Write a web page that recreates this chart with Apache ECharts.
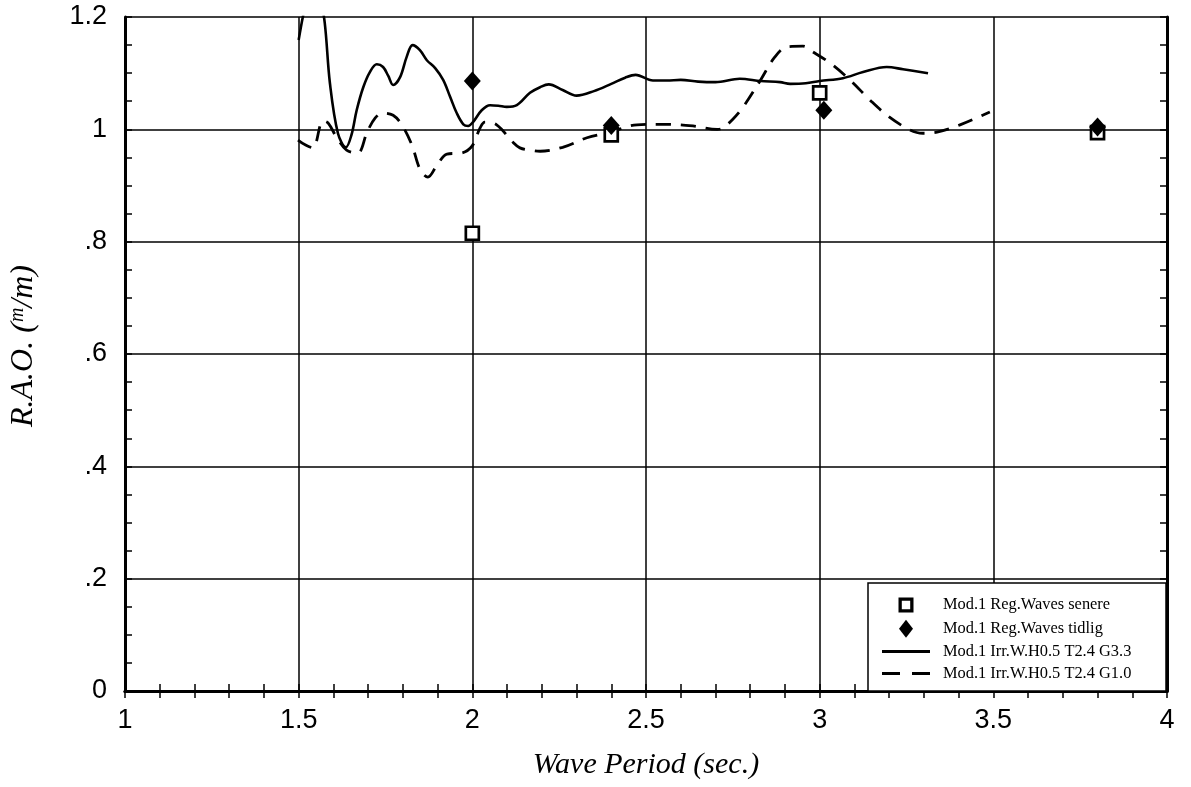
<!DOCTYPE html>
<html>
<head>
<meta charset="utf-8">
<script src="https://cdn.jsdelivr.net/npm/echarts@6/dist/echarts.min.js"></script>
<style>
html,body{margin:0;padding:0;background:#fff;}
#chart{width:1191px;height:787px;}
</style>
</head>
<body>
<div id="chart"></div>
<script>
// ---- data ----
const xTicks = [1, 1.5, 2, 2.5, 3, 3.5, 4];
const yTicks = ['0', '.2', '.4', '.6', '.8', '1', '1.2'];

const senerePeriod = [2.0, 2.4, 3.0, 3.8];
const senereRao    = [0.815, 0.99, 1.065, 0.994];

const tidligPeriod = [2.0, 2.4, 3.012, 3.8];
const tidligRao    = [1.086, 1.007, 1.034, 1.004];

const g33Period = [1.5, 1.512, 1.53, 1.545, 1.56, 1.575, 1.59, 1.613, 1.636, 1.652, 1.667, 1.686, 1.705, 1.725, 1.743, 1.758, 1.772, 1.792, 1.811, 1.828, 1.849, 1.869, 1.893, 1.916, 1.936, 1.955, 1.974, 1.988, 2.002, 2.027, 2.051, 2.075, 2.099, 2.128, 2.166, 2.195, 2.22, 2.26, 2.3, 2.35, 2.4, 2.44, 2.47, 2.52, 2.56, 2.6, 2.65, 2.7, 2.77, 2.83, 2.886, 2.915, 2.96, 3.0, 3.067, 3.125, 3.193, 3.24, 3.312];
const g33Rao    = [1.159, 1.2, 1.25, 1.265, 1.24, 1.19, 1.082, 0.993, 0.968, 0.99, 1.034, 1.075, 1.102, 1.116, 1.111, 1.095, 1.079, 1.093, 1.129, 1.15, 1.141, 1.123, 1.109, 1.088, 1.058, 1.029, 1.009, 1.006, 1.013, 1.034, 1.043, 1.042, 1.04, 1.043, 1.065, 1.075, 1.08, 1.07, 1.06, 1.068, 1.081, 1.092, 1.097, 1.087, 1.087, 1.088, 1.085, 1.084, 1.09, 1.086, 1.084, 1.081, 1.082, 1.086, 1.091, 1.102, 1.111, 1.107, 1.1];

const g10Period = [1.498, 1.52, 1.541, 1.57, 1.585, 1.61, 1.638, 1.67, 1.697, 1.72, 1.743, 1.772, 1.797, 1.826, 1.85, 1.872, 1.898, 1.927, 1.97, 1.999, 2.022, 2.036, 2.07, 2.117, 2.137, 2.175, 2.195, 2.26, 2.33, 2.396, 2.474, 2.56, 2.635, 2.705, 2.72, 2.75, 2.78, 2.83, 2.87, 2.906, 2.952, 2.98, 3.03, 3.087, 3.145, 3.2, 3.26, 3.297, 3.338, 3.404, 3.49];
const g10Rao    = [0.981, 0.972, 0.967, 1.015, 1.011, 0.985, 0.963, 0.958, 0.995, 1.02, 1.029, 1.025, 1.008, 0.972, 0.928, 0.915, 0.936, 0.956, 0.958, 0.97, 1.002, 1.013, 1.008, 0.977, 0.967, 0.962, 0.961, 0.968, 0.985, 0.995, 1.008, 1.009, 1.006, 1.0, 1.002, 1.018, 1.04, 1.088, 1.128, 1.147, 1.148, 1.138, 1.118, 1.088, 1.052, 1.022, 0.999, 0.993, 0.995, 1.008, 1.031];

const names = ['Mod.1 Reg.Waves senere', 'Mod.1 Reg.Waves tidlig', 'Mod.1 Irr.W.H0.5 T2.4 G3.3', 'Mod.1 Irr.W.H0.5 T2.4 G1.0'];

const zip = (a, b) => a.map((v, i) => [v, b[i]]);

const chart = echarts.init(document.getElementById('chart'), null, {renderer: 'canvas'});
const black = '#000';
const yFmt = v => {
  const s = Number(v).toFixed(1).replace(/\.0$/, '');
  return s.startsWith('0.') ? s.slice(1) : s;
};

const minorTick = (n) => ({show: true, splitNumber: n, length: 7, lineStyle: {color: black, width: 1.5}});

// legend icon shapes
const iconSquare = 'path://M-1.5,-1.5h0.01v0.01h-0.01ZM16.49,16.49h0.01v0.01h-0.01ZM0,0H15V15H0ZM3.3,3.3V11.7H11.7V3.3Z';
const iconDiamond = 'path://M7,0L14,9L7,18L0,9Z';
const iconSolid = 'path://M0,0H48V3H0Z';
const iconDashed = 'path://M0,0H18V3H0ZM30,0H48V3H30Z';

const option = {
  backgroundColor: '#fff',
  animation: false,
  grid: {left: 125, right: 24, top: 17, bottom: 96, containLabel: false},
  xAxis: [{
    type: 'value', min: 1, max: 4, interval: 0.5, position: 'bottom',
    name: 'Wave Period (sec.)', nameLocation: 'middle', nameGap: 59,
    nameTextStyle: {fontFamily: 'Liberation Serif', fontStyle: 'italic', fontSize: 30, color: black},
    axisLine: {show: true, lineStyle: {color: black, width: 3}},
    axisTick: {show: true, inside: true, length: 7, lineStyle: {color: black, width: 1.5}},
    minorTick: minorTick(5),
    axisLabel: {show: true, margin: 16, fontFamily: 'Liberation Sans', fontSize: 27, color: black,
      formatter: v => String(v)},
    splitLine: {show: true, lineStyle: {color: black, width: 1.5}}
  }, {
    type: 'value', min: 1, max: 4, interval: 0.5, position: 'top',
    axisLine: {show: true, lineStyle: {color: black, width: 3}},
    axisTick: {show: true, inside: true, length: 7, lineStyle: {color: black, width: 1.5}},
    minorTick: minorTick(5),
    axisLabel: {show: false}, splitLine: {show: false}
  }],
  yAxis: [{
    type: 'value', min: 0, max: 1.2, interval: 0.2, position: 'left',
    name: 'R.A.O. ({sup|m}/m)', nameLocation: 'middle', nameGap: 85, nameRotate: 90,
    nameTextStyle: {fontFamily: 'Liberation Serif', fontStyle: 'italic', fontSize: 32, color: black,
      padding: [0, 0, 0, 16],
      rich: {sup: {fontFamily: 'Liberation Serif', fontStyle: 'italic', fontSize: 20, color: black, verticalAlign: 'top', lineHeight: 20}}},
    axisLine: {show: true, lineStyle: {color: black, width: 3}},
    axisTick: {show: true, inside: true, length: 7, lineStyle: {color: black, width: 1.5}},
    minorTick: minorTick(4),
    axisLabel: {show: true, margin: 18, fontFamily: 'Liberation Sans', fontSize: 27, color: black,
      formatter: yFmt},
    splitLine: {show: true, lineStyle: {color: black, width: 1.5}}
  }, {
    type: 'value', min: 0, max: 1.2, interval: 0.2, position: 'right',
    axisLine: {show: true, lineStyle: {color: black, width: 3}},
    axisTick: {show: true, inside: true, length: 7, lineStyle: {color: black, width: 1.5}},
    minorTick: minorTick(4),
    axisLabel: {show: false}, splitLine: {show: false}
  }],
  graphic: [{
    type: 'rect', z: 10,
    shape: {x: 868, y: 583, width: 298, height: 108},
    style: {fill: '#fff', stroke: black, lineWidth: 1.5}
  }],
  legend: {
    z: 20, orient: 'vertical', left: 882, top: 596, padding: 0,
    itemWidth: 48, itemHeight: 18, itemGap: 5.8,
    textStyle: {fontFamily: 'Liberation Serif', fontSize: 16.4, color: black, padding: [0, 0, 0, 8]},
    data: [
      {name: names[0], icon: iconSquare, itemStyle: {color: black, borderWidth: 0}},
      {name: names[1], icon: iconDiamond, itemStyle: {color: black, borderWidth: 0}},
      {name: names[2], icon: iconSolid, itemStyle: {color: black, borderWidth: 0}},
      {name: names[3], icon: iconDashed, itemStyle: {color: black, borderWidth: 0}}
    ]
  },
  series: [
    {
      name: names[2], type: 'line', xAxisIndex: 0, yAxisIndex: 0,
      data: zip(g33Period, g33Rao), showSymbol: false, symbol: 'none', smooth: 0.35,
      lineStyle: {color: black, width: 2.6}, itemStyle: {color: black}, z: 3
    },
    {
      name: names[3], type: 'line', xAxisIndex: 0, yAxisIndex: 0,
      data: zip(g10Period, g10Rao), showSymbol: false, symbol: 'none', smooth: 0.35,
      lineStyle: {color: black, width: 2.8, type: [15, 10]}, itemStyle: {color: black}, z: 3
    },
    {
      name: names[0], type: 'scatter', xAxisIndex: 0, yAxisIndex: 0,
      data: zip(senerePeriod, senereRao), symbol: 'rect', symbolSize: 13,
      itemStyle: {color: '#fff', borderColor: black, borderWidth: 2.7, opacity: 1}, z: 4
    },
    {
      name: names[1], type: 'scatter', xAxisIndex: 0, yAxisIndex: 0,
      data: zip(tidligPeriod, tidligRao), symbol: 'diamond', symbolSize: [17, 19],
      itemStyle: {color: black, opacity: 1}, z: 5
    }
  ]
};
chart.setOption(option);
</script>
</body>
</html>
